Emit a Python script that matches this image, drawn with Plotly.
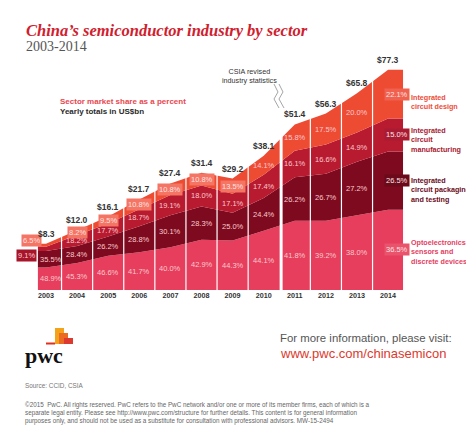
import plotly.graph_objects as go

# ---------------- data ----------------
years = [2003, 2004, 2005, 2006, 2007, 2008, 2009, 2010, 2011, 2012, 2013, 2014]
totals_usd_bn = [8.3, 12.0, 16.1, 21.7, 27.4, 31.4, 29.2, 38.1, 51.4, 56.3, 65.8, 77.3]

ic_design = [6.5, 8.2, 9.5, 10.8, 10.8, 10.8, 13.5, 14.1, 15.8, 17.5, 20.0, 22.1]
ic_manufacturing = [9.1, 18.2, 17.7, 18.7, 19.1, 18.0, 17.1, 17.4, 16.1, 16.6, 14.9, 15.0]
ic_packaging = [35.5, 28.4, 26.2, 28.8, 30.1, 28.3, 25.0, 24.4, 26.2, 26.7, 27.2, 26.5]
opto_sensors = [48.9, 45.3, 46.6, 41.7, 40.0, 42.9, 44.3, 44.1, 41.8, 39.2, 38.0, 36.5]

sector_labels = [
    "Optoelectronics,<br>sensors and<br>discrete devices",
    "Integrated<br>circuit packaging<br>and testing",
    "Integrated<br>circuit<br>manufacturing",
    "Integrated<br>circuit design",
]

# ---------------- styling ----------------
W, H = 474, 434
PLOT_TOP, PLOT_BOTTOM = 40, 282
PX_PER_COL = 31.1
FIRST_COL_PX = 38
DISPLAY_EXP = 0.7          # designer's compressed height scale
PX_PER_UNIT = 10.5

band_colors = ["#e63e5c", "#7d0a1e", "#b81a30", "#ee4b33"]
legend_colors = ["#e4405f", "#6a0a1a", "#a81830", "#ec4c38"]
badge_2014 = ["#e9536c", "#6a0a1a", "#a91a33", "#f0624f"]
TOP_BADGE = "#f47563"
PCT_COLOR = "#f9c9cd"
SANS = "Liberation Sans, Arial, sans-serif"
SERIF = "Liberation Serif, Times New Roman, serif"


def px_x(px):
    return px / W


def px_y(py):
    return (PLOT_BOTTOM - py) / (PLOT_BOTTOM - PLOT_TOP)


n = len(years)
xpos = list(range(n))
scaled_tot = [t ** DISPLAY_EXP for t in totals_usd_bn]
series = [opto_sensors, ic_packaging, ic_manufacturing, ic_design]
sums = [sum(s[j] for s in series) for j in range(n)]
heights = [[s[j] / sums[j] * scaled_tot[j] for j in range(n)] for s in series]

x_left, x_right = -0.26, n - 1 + 0.48
x_area = [x_left] + xpos + [x_right]

fig = go.Figure()
for k, hs in enumerate(heights):
    fig.add_trace(go.Scatter(
        x=x_area, y=[hs[0]] + hs + [hs[-1]],
        mode="lines", stackgroup="one", line=dict(width=0, color=band_colors[k]),
        fillcolor=band_colors[k], name=sector_labels[k].replace("<br>", " "),
        hoverinfo="skip", showlegend=False,
    ))

ymax = (PLOT_BOTTOM - PLOT_TOP) / PX_PER_UNIT

shapes = []
for i in range(n - 1):
    brk = years[i] == 2010
    xv = i + 0.5 + (0.06 if brk else 0)
    shapes.append(dict(type="line", xref="x", yref="y", x0=xv, x1=xv, y0=0, y1=ymax,
                       line=dict(color="white", width=3 if brk else 1.2), layer="above"))

annotations = []
# percentage labels
for j in range(n):
    base = 0
    for k in range(4):
        h = heights[k][j]
        yc = base + h / 2
        base += h
        pct = series[k][j]
        ann = dict(x=xpos[j], y=yc, xref="x", yref="y", text=f"{pct:.1f}%", showarrow=False,
                   font=dict(family=SANS, size=7.5, color=PCT_COLOR))
        if years[j] == 2014:
            ann.update(bgcolor=badge_2014[k], xshift=9, borderpad=1,
                       font=dict(family=SANS, size=7.5, color="#fde3e3"))
        elif k == 3 and years[j] <= 2009:
            ann.update(bgcolor=TOP_BADGE, borderpad=1, font=dict(family=SANS, size=7.5, color="#fde3e3"))
        if years[j] == 2003:
            if k == 3:
                ann.update(xshift=-15, yshift=5)
            elif k == 2:
                ann.update(xshift=-20, yshift=-7, bgcolor="#a8152b", borderpad=1,
                           font=dict(family=SANS, size=7.5, color="#fbd0d4"))
            else:
                ann.update(xshift=5)
        annotations.append(ann)

# totals
for j in range(n):
    annotations.append(dict(x=xpos[j], y=scaled_tot[j], xref="x", yref="y", yanchor="bottom",
                            yshift=3, text=f"<b>${totals_usd_bn[j]:.1f}</b>", showarrow=False,
                            font=dict(family=SANS, size=8.5, color="#333333")))

# sector legend text at right
legend_py = [244, 182, 131.5, 93.5]
for k in range(4):
    annotations.append(dict(x=px_x(402), y=px_y(legend_py[k]), xref="paper", yref="paper",
                            xanchor="left", yanchor="middle", align="left", showarrow=False,
                            borderpad=0, text=f"<b>{sector_labels[k]}</b>",
                            font=dict(family=SANS, size=7.2, color=legend_colors[k])))

# titles and notes
annotations += [
    dict(x=px_x(16), y=px_y(22.5), xref="paper", yref="paper", xanchor="left", yanchor="middle",
         showarrow=False, text="<b><i>China’s semiconductor industry by sector</i></b>",
         font=dict(family=SERIF, size=16.5, color="#d0202e")),
    dict(x=px_x(16), y=px_y(38), xref="paper", yref="paper", xanchor="left", yanchor="middle",
         showarrow=False, text="2003-2014", font=dict(family=SERIF, size=14, color="#555555")),
    dict(x=px_x(50), y=px_y(93), xref="paper", yref="paper", xanchor="left", yanchor="middle",
         showarrow=False, text="<b>Sector market share as a percent</b>",
         font=dict(family=SANS, size=8, color="#e8474f")),
    dict(x=px_x(50), y=px_y(103), xref="paper", yref="paper", xanchor="left", yanchor="middle",
         showarrow=False, text="<b>Yearly totals in US$bn</b>",
         font=dict(family=SANS, size=8, color="#2a2a2a")),
    dict(x=px_x(241), y=px_y(68), xref="paper", yref="paper", xanchor="center", yanchor="middle",
         showarrow=False, text="CSIA revised<br>industry statistics",
         font=dict(family=SANS, size=7.2, color="#333333")),
    dict(x=px_x(15), y=px_y(347), xref="paper", yref="paper", xanchor="left", yanchor="middle",
         showarrow=False, text="<b>pwc</b>", font=dict(family=SERIF, size=22, color="#111111")),
    dict(x=px_x(270), y=px_y(330), xref="paper", yref="paper", xanchor="left", yanchor="middle",
         showarrow=False, text="For more information, please visit:",
         font=dict(family=SANS, size=11.4, color="#555555")),
    dict(x=px_x(270), y=px_y(345), xref="paper", yref="paper", xanchor="left", yanchor="middle",
         showarrow=False, text="www.pwc.com/chinasemicon",
         font=dict(family=SANS, size=13, color="#db3a2e")),
    dict(x=px_x(15), y=px_y(377), xref="paper", yref="paper", xanchor="left", yanchor="middle",
         showarrow=False, text="Source: CCID, CSIA",
         font=dict(family=SANS, size=6.4, color="#777777")),
    dict(x=px_x(15), y=px_y(405), xref="paper", yref="paper", xanchor="left", yanchor="middle",
         align="left", showarrow=False,
         text=("©2015  PwC. All rights reserved. PwC refers to the PwC network and/or one or more of its member firms, each of which is a<br>"
               "separate legal entity. Please see http://www.pwc.com/structure for further details. This content is for general information<br>"
               "purposes only, and should not be used as a substitute for consultation with professional advisors. MW-15-2494"),
         font=dict(family=SANS, size=6.3, color="#666666")),
]

# break symbol (two wavy strokes)
for dx in (0, 5):
    pts = [(266 + dx, 76), (270 + dx, 84), (266 + dx, 91), (271 + dx, 100)]
    path = "M " + " L ".join(f"{px_x(a):.4f},{px_y(b):.4f}" for a, b in pts)
    shapes.append(dict(type="path", xref="paper", yref="paper", path=path,
                       line=dict(color="#9a9a9a", width=0.9)))

# pwc logo blocks
logo = [((47, 320, 56, 336), "#f5a21b"), ((51, 325, 60, 336), "#eb6b22"),
        ((56, 330, 65, 336), "#dc3a2f"), ((38, 334.5, 47, 336.5), "#e0301e")]
for (x0, y0, x1, y1), c in logo:
    shapes.append(dict(type="rect", xref="paper", yref="paper", x0=px_x(x0), x1=px_x(x1),
                       y0=px_y(y1), y1=px_y(y0), fillcolor=c, line=dict(width=0)))

x0_range = -FIRST_COL_PX / PX_PER_COL
x1_range = (W - FIRST_COL_PX) / PX_PER_COL

fig.update_layout(
    width=W, height=H,
    margin=dict(l=0, r=0, t=PLOT_TOP, b=H - PLOT_BOTTOM, pad=0),
    paper_bgcolor="white", plot_bgcolor="white",
    xaxis=dict(range=[x0_range, x1_range], tickvals=xpos,
               ticktext=[f"<b>{y}</b>" for y in years],
               tickfont=dict(family=SANS, size=7.2, color="#333333"),
               showgrid=False, zeroline=False, showline=False, ticks=""),
    yaxis=dict(range=[0, ymax], visible=False, showgrid=False, zeroline=False),
    shapes=shapes, annotations=annotations, showlegend=False,
)

fig.write_html("out.html")
